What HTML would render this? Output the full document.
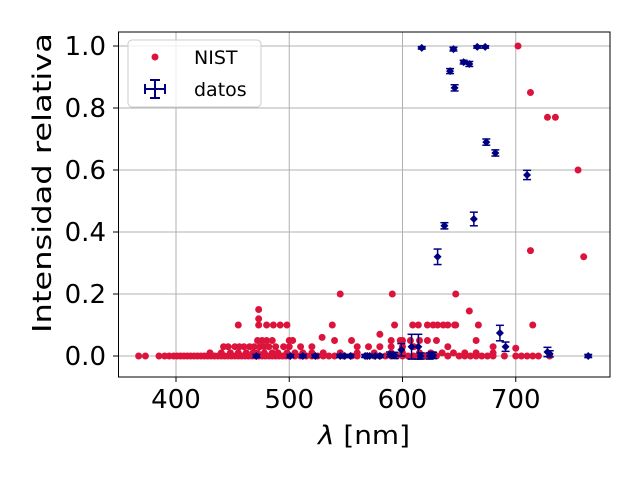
<!DOCTYPE html>
<html><head><meta charset="utf-8"><style>
body{margin:0;background:#fff;}
svg text{font-family:"DejaVu Sans","Liberation Sans",sans-serif;}
</style></head><body>
<svg id="chart" width="640" height="480" viewBox="0 0 640 480" xmlns="http://www.w3.org/2000/svg">
<rect width="640" height="480" fill="#fff"/>
<g id="grid"></g>
<g id="nist"></g>
<g id="datos"></g>
<rect x="118.5" y="32" width="491.5" height="345" fill="none" stroke="#000" stroke-width="1"/>
<g id="ticks"></g>
<text x="364" y="444" font-size="26" text-anchor="middle" textLength="92" lengthAdjust="spacingAndGlyphs"><tspan font-style="italic">λ</tspan> [nm]</text>
<text transform="translate(51,183) rotate(-90)" font-size="26" text-anchor="middle" textLength="300" lengthAdjust="spacingAndGlyphs">Intensidad relativa</text>
<g>
<rect x="128" y="40" width="133" height="67" rx="4" fill="#fff" fill-opacity="0.8" stroke="#ccc"/>
<circle cx="155" cy="57" r="3.5" fill="#dc143c"/>
<text x="194" y="64" font-size="19">NIST</text>
<g stroke="#000080" stroke-width="2">
<line x1="145" y1="89" x2="165" y2="89"/><line x1="155" y1="80" x2="155" y2="98"/>
<line x1="145" y1="84" x2="145" y2="94"/><line x1="165" y1="84" x2="165" y2="94"/>
<line x1="150" y1="80" x2="160" y2="80"/><line x1="150" y1="98" x2="160" y2="98"/></g>
<text x="194" y="96" font-size="19">datos</text>
</g>
</svg>
<script>
const xTicks=[400,500,600,700];
const yTicks=[0.0,0.2,0.4,0.6,0.8,1.0];
const yTickLabels=["0.0","0.2","0.4","0.6","0.8","1.0"];
const nistWl=[367,373,385,390,394,398,401,404,407,410,413,416,419,422,425,428,431,434,437,440,443,446,449,452,455,458,461,464,467,470,473,476,479,482,485,488,491,494,497,500,505,510,515,520,525,530,535,540,548,555,560,568,575,580,585,590,595,600,605,610,615,620,625,630,640,650,655,660,665,670,675,680,690,700,705,710,715,720,730,
430,440,448,455,462,468,472,478,485,490,498,505,512,520,530,545,560,575,590,600,615,625,635,645,655,665,680,
442,446,452,456,460,465,469,474,478,482,488,495,500,510,520,560,570,580,590,600,610,640,680,700,
472,476,480,485,500,503,540,555,590,600,607,615,622,630,665,
529,580,598,
455,473,480,486,492,498,538,593,609,614,622,627,631,636,640,646,647,667,715,
473,473,659,545,591,647,
702,713,728,735,755,713,760];
const nistI=[0,0,0,0,0,0,0,0,0,0,0,0,0,0,0,0,0,0,0,0,0,0,0,0,0,0,0,0,0,0,0,0,0,0,0,0,0,0,0,0,0,0,0,0,0,0,0,0,0,0,0,0,0,0,0,0,0,0,0,0,0,0,0,0,0,0,0,0,0,0,0,0,0,0,0,0,0,0,0,
0.01,0.01,0.01,0.01,0.01,0.01,0.01,0.01,0.01,0.01,0.01,0.01,0.01,0.01,0.01,0.01,0.01,0.01,0.01,0.01,0.01,0.01,0.01,0.01,0.01,0.01,0.01,
0.03,0.03,0.03,0.03,0.03,0.03,0.03,0.03,0.03,0.03,0.03,0.03,0.03,0.03,0.03,0.03,0.03,0.03,0.03,0.03,0.03,0.03,0.03,0.025,
0.05,0.05,0.05,0.05,0.05,0.05,0.05,0.05,0.05,0.05,0.05,0.05,0.05,0.05,0.05,
0.06,0.07,0.05,
0.1,0.1,0.1,0.1,0.1,0.1,0.1,0.1,0.1,0.1,0.1,0.1,0.1,0.1,0.1,0.1,0.1,0.1,0.1,
0.12,0.15,0.145,0.2,0.2,0.2,
1.0,0.85,0.77,0.77,0.6,0.34,0.32];
const datosWl=[617,645,666,673,654,659,642,646,674,682,710,663,637,631,686,691,728,730,764,599,608,614,626,589,571,569,471,501,512,523,545,549,554,567,576,580,593,616,624,627];
const datosI=[0.994,0.99,0.997,0.997,0.948,0.942,0.919,0.865,0.69,0.655,0.584,0.442,0.42,0.32,0.074,0.03,0.013,0.007,0.0,0.02,0.03,0.03,0.003,0.005,0.0,0.0,0.0,0.0,0.0,0.0,0.0,0.0,0.0,0.0,0.0,0.0,0.002,0.0,0.0,0.002];
const datosErr=[0.004,0.006,0.004,0.004,0.006,0.008,0.008,0.01,0.01,0.01,0.015,0.022,0.01,0.025,0.025,0.015,0.015,0.01,0.005,0.02,0.04,0.04,0.01,0.008,0.005,0.005,0.005,0.005,0.005,0.005,0.005,0.005,0.005,0.005,0.005,0.005,0.01,0.01,0.01,0.01];
const NS="http://www.w3.org/2000/svg";
function xs(v){return 176+(v-400)*1.1325;}
function ys(v){return 356-v*310;}
function mk(tag,attrs,parent){const e=document.createElementNS(NS,tag);for(const k in attrs)e.setAttribute(k,attrs[k]);parent.appendChild(e);return e;}
const grid=document.getElementById('grid'),ticks=document.getElementById('ticks');
xTicks.forEach(t=>{
 const g=mk('line',{x1:xs(t),x2:xs(t),y1:32,y2:377,stroke:'#b0b0b0','stroke-width':1},grid);
 
 
 const tk=mk('line',{x1:xs(t),x2:xs(t),y1:377,y2:382,stroke:'#000'},ticks);
 
 
 const tx=mk('text',{x:xs(t),y:408,'font-size':26,'text-anchor':'middle'},ticks);
 
 
 tx.textContent=t;
});
yTicks.forEach((t,i)=>{
 const g=mk('line',{x1:118,x2:610,y1:ys(t),y2:ys(t),stroke:'#b0b0b0','stroke-width':1},grid);
 
 
 const tk=mk('line',{x1:113,x2:118,y1:ys(t),y2:ys(t),stroke:'#000'},ticks);
 
 
 const tx=mk('text',{x:106,y:ys(t)+9,'font-size':26,'text-anchor':'end'},ticks);
 
 
 tx.textContent=yTickLabels[i];
});
const nist=document.getElementById('nist');
nistWl.forEach((w,i)=>{
 const c=mk('circle',{cx:xs(w),cy:ys(nistI[i]),r:3.5,fill:'#dc143c'},nist);
 
 
});
const datos=document.getElementById('datos');
datosWl.forEach((w,i)=>{
 const x=xs(w),y=ys(datosI[i]),e=datosErr[i]*310;
 const g=mk('g',{stroke:'#000080','stroke-width':1.5},datos);
 
 
 mk('line',{x1:x,x2:x,y1:y-e,y2:y+e},g);
 mk('line',{x1:x-4,x2:x+4,y1:y-e,y2:y-e},g);
 mk('line',{x1:x-4,x2:x+4,y1:y+e,y2:y+e},g);
 mk('line',{x1:x-3,x2:x+3,y1:y,y2:y},g);
 mk('path',{d:`M${x} ${y-4}L${x+4} ${y}L${x} ${y+4}L${x-4} ${y}Z`,fill:'#000080',stroke:'none'},g);
});
</script>
</body></html>
